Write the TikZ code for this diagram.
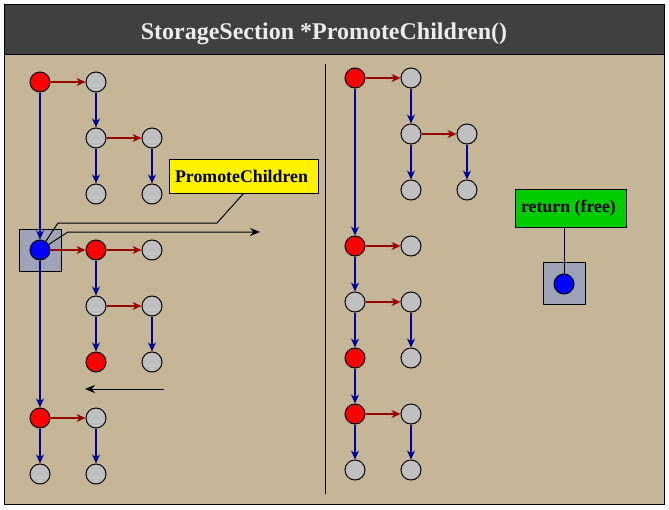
\documentclass[tikz,border=0pt]{standalone}
\usepackage{fontspec}
\setmainfont{Liberation Serif}
\usetikzlibrary{arrows.meta}
\definecolor{tanbg}{RGB}{197,182,152}
\definecolor{titlebg}{RGB}{64,64,64}
\definecolor{titletext}{RGB}{235,235,235}
\definecolor{nodegray}{RGB}{192,192,192}
\definecolor{navyc}{RGB}{0,0,150}
\definecolor{sibred}{RGB}{150,0,0}
\definecolor{boxgray}{RGB}{160,162,182}
\definecolor{retgreen}{RGB}{0,204,0}
\tikzset{
  tn/.style={circle,draw=black,line width=1pt,minimum size=20pt,inner sep=0pt,fill=nodegray},
  rn/.style={tn,fill=red},
  bn/.style={tn,fill=blue},
  holder/.style={draw=black,line width=1pt,fill=boxgray,minimum size=42pt,inner sep=0pt},
  childarr/.style={draw=navyc,line width=2pt,-{Stealth[length=9pt,width=8pt]}},
  sibarr/.style={draw=sibred,line width=2pt,-{Stealth[length=9pt,width=8pt]}},
  thin/.style={draw=black,line width=1pt},
  thinarr/.style={thin,-{Stealth[length=10pt,width=8pt]}},
  lbl/.style={draw=black,line width=1pt,inner sep=0pt,font=\bfseries\fontsize{17.8}{20}\selectfont}
}
\begin{document}
\begin{tikzpicture}[x=1pt,y=-1pt]
\useasboundingbox (0,0) rectangle (669,509);
\fill[white] (0,0) rectangle (669,509);
\draw[line width=1pt,fill=tanbg] (4,4) rectangle (664,504);
\draw[line width=1pt,fill=titlebg] (4,4) rectangle (664,54);
\node[text=titletext,anchor=base,inner sep=0pt,font=\bfseries\fontsize{24}{28}\selectfont] (title) at (324,39) {StorageSection *PromoteChildren()};

% divider
\coordinate (d1) at (325,64);
\coordinate (d2) at (325,494);
\draw[thin] (d1) -- (d2);

% left tree
\node[holder] (lbox) at (40,250) {};
\node[rn] (l1) at (40,82) {};
\node[tn] (l2) at (96,82) {};
\node[tn] (l3) at (96,138) {};
\node[tn] (l4) at (152,138) {};
\node[tn] (l5) at (96,194) {};
\node[tn] (l6) at (152,194) {};
\node[bn] (lb) at (40,250) {};
\node[rn] (l7) at (96,250) {};
\node[tn] (l8) at (152,250) {};
\node[tn] (l9) at (96,306) {};
\node[tn] (l10) at (152,306) {};
\node[rn] (l11) at (96,362) {};
\node[tn] (l12) at (152,362) {};
\node[rn] (l13) at (40,418) {};
\node[tn] (l14) at (96,418) {};
\node[tn] (l15) at (40,474) {};
\node[tn] (l16) at (96,474) {};

\draw[sibarr] (l1) -- (l2);
\draw[childarr] (l1) -- (lb);
\draw[childarr] (l2) -- (l3);
\draw[sibarr] (l3) -- (l4);
\draw[childarr] (l3) -- (l5);
\draw[childarr] (l4) -- (l6);
\draw[sibarr] (lb) -- (l7);
\draw[childarr] (lb) -- (l13);
\draw[sibarr] (l7) -- (l8);
\draw[childarr] (l7) -- (l9);
\draw[sibarr] (l9) -- (l10);
\draw[childarr] (l9) -- (l11);
\draw[childarr] (l10) -- (l12);
\draw[sibarr] (l13) -- (l14);
\draw[childarr] (l13) -- (l15);
\draw[childarr] (l14) -- (l16);

% PromoteChildren label
\node[lbl,fill=yellow,minimum width=149pt,minimum height=34pt] (pc) at (243.5,176) {PromoteChildren\hspace*{4pt}};
\coordinate (k1) at (217,223);
\coordinate (k2) at (58,223);
\draw[thin] (pc.south) -- (k1) -- (k2) -- (lb);
\coordinate (k3) at (68,232);
\coordinate (e1) at (260,232);
\draw[thinarr] (lb) -- (k3) -- (e1);
\coordinate (b1) at (164,389);
\coordinate (b2) at (85,389);
\draw[thinarr] (b1) -- (b2);

% right tree
\node[rn] (r1) at (355,78) {};
\node[tn] (r2) at (411,78) {};
\node[tn] (r3) at (411,134) {};
\node[tn] (r4) at (467,134) {};
\node[tn] (r5) at (411,190) {};
\node[tn] (r6) at (467,190) {};
\node[rn] (r7) at (355,246) {};
\node[tn] (r8) at (411,246) {};
\node[tn] (r9) at (355,302) {};
\node[tn] (r10) at (411,302) {};
\node[rn] (r11) at (355,358) {};
\node[tn] (r12) at (411,358) {};
\node[rn] (r13) at (355,414) {};
\node[tn] (r14) at (411,414) {};
\node[tn] (r15) at (355,470) {};
\node[tn] (r16) at (411,470) {};

\draw[sibarr] (r1) -- (r2);
\draw[childarr] (r1) -- (r7);
\draw[childarr] (r2) -- (r3);
\draw[sibarr] (r3) -- (r4);
\draw[childarr] (r3) -- (r5);
\draw[childarr] (r4) -- (r6);
\draw[sibarr] (r7) -- (r8);
\draw[childarr] (r7) -- (r9);
\draw[sibarr] (r9) -- (r10);
\draw[childarr] (r9) -- (r11);
\draw[childarr] (r10) -- (r12);
\draw[childarr] (r11) -- (r13);
\draw[sibarr] (r13) -- (r14);
\draw[childarr] (r13) -- (r15);
\draw[childarr] (r14) -- (r16);

% freed node
\node[holder] (rbox) at (564,283) {};
\node[bn] (rb) at (564,284) {};
\node[lbl,fill=retgreen,minimum width=111pt,minimum height=38pt] (ret) at (570.5,208) {return (free)\hspace*{4pt}};
\draw[thin] (ret.south -| rb) -- (rb);
\end{tikzpicture}
\end{document}
